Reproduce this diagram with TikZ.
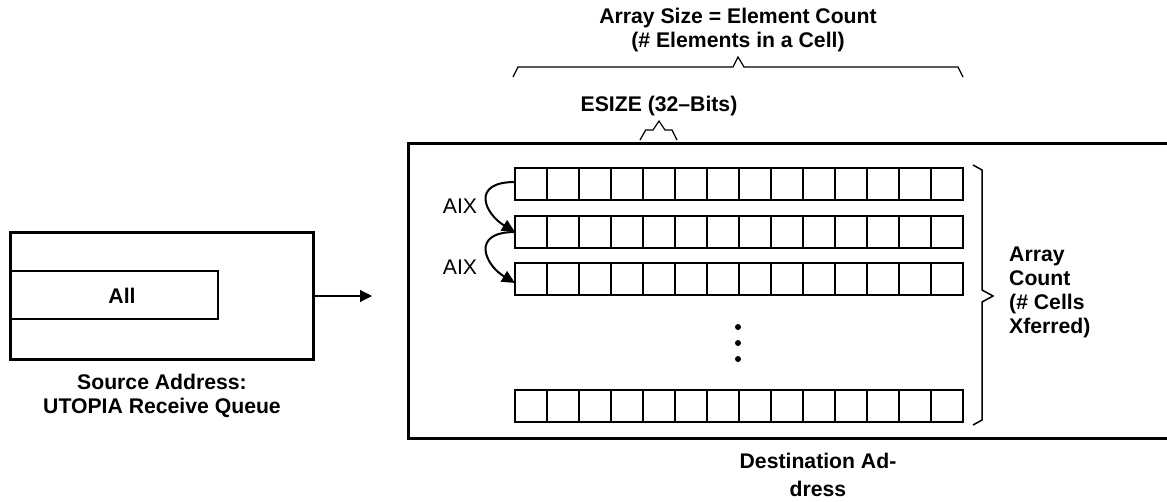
\documentclass[tikz,border=0pt]{standalone}
\usepackage{fontspec}
\setmainfont{Liberation Sans}
\usetikzlibrary{arrows.meta,calc}
\begin{document}
\begin{tikzpicture}[x=1pt,y=-1pt,
  lab/.style={inner sep=0pt,font=\fontsize{21.2}{24}\selectfont\bfseries},
  plain/.style={inner sep=0pt,font=\fontsize{21.2}{24}\selectfont},
  rowbox/.style={draw,line width=2pt,minimum width=448pt,minimum height=32pt,inner sep=0pt,outer sep=0pt},
  thinline/.style={line width=1.2pt},
  aix/.style={line width=2pt,-{Triangle[length=13pt,width=12pt]}}]
\useasboundingbox (0,0) rectangle (1167,501);

% source buffer
\draw[line width=3pt] (10,232) rectangle (313,359);
\draw[line width=2pt] (10,271) rectangle (218,319);
\node[lab] (all) at (122,296) {All};
\coordinate (srcR) at (313,296);
\coordinate (dstL) at (372,296);
\draw[thinline,-{Triangle[length=12pt,width=12pt]}] (srcR) -- (dstL);
% multi-line labels are placed by the baseline of their last line
\node[lab,anchor=base,align=center] (src) at (162,413) {Source Address:\\UTOPIA Receive Queue};

% destination frame (runs off the right edge)
\draw[line width=3pt] (1170,143) -- (408,143) -- (408,438) -- (1170,438);
\node[lab,anchor=base,align=center] (dst) at (818,496) {Destination Ad-\\[4pt]dress};

% cell rows
\node[rowbox] (r1) at (739,184) {};
\node[rowbox] (r2) at (739,232) {};
\node[rowbox] (r3) at (739,279) {};
\node[rowbox] (r4) at (739,406) {};
\foreach \r in {r1,r2,r3,r4}
  \foreach \i in {1,...,13}
    \draw[line width=2pt] ($(\r.north west)+(\i*32,0)$) -- ($(\r.south west)+(\i*32,0)$);

% continuation dots
\foreach \y in {327,343,359}
  \fill (738,\y) circle (3pt);

% index steps
\draw[aix] ($(r1.west)+(0,-2)$) .. controls +(-45,0) and +(-30,-18) .. (r2.west);
\draw[aix] (r2.west) .. controls +(-45,0) and +(-30,-18) .. ($(r3.west)+(0,4)$);
\node[plain,anchor=base] (aix1) at (460,213) {AIX};
\node[plain,anchor=base] (aix2) at (460,274) {AIX};

% array size brace
\draw[thinline] (513,77) -- (518,67) -- (733,67) -- (738,57) -- (744,67) -- (958,67) -- (963,77);
\node[lab,anchor=base,align=center] (asize) at (738,47) {Array Size = Element Count\\(\# Elements in a Cell)};

% element size brace
\draw[thinline] (640,140) -- (645.7,130) -- (653,130) -- (659,121) -- (665,130) -- (672,130) -- (677,140);
\node[lab,anchor=base] (esize) at (659,111) {ESIZE (32--Bits)};

% array count brace
\draw[line width=1.5pt] (973,165) -- (982,170) -- (982,290) -- (993,296) -- (982,302) -- (982,420) -- (973,425);
\node[lab,anchor=base west,align=left] (acount) at (1009,333) {Array\\Count\\(\# Cells\\Xferred)};
\end{tikzpicture}
\end{document}
